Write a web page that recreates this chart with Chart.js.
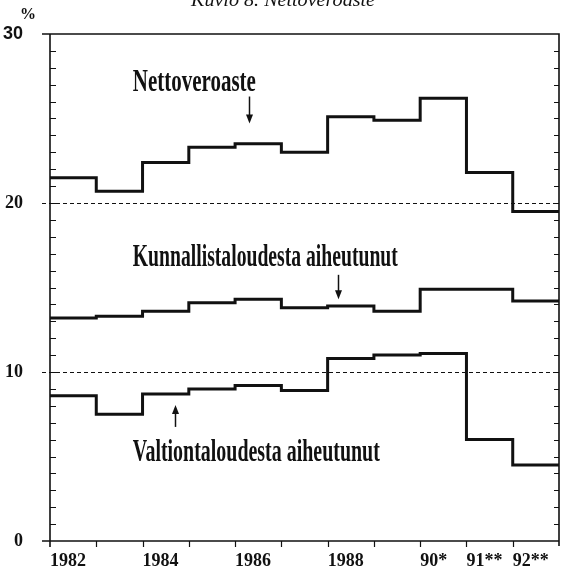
<!DOCTYPE html>
<html>
<head>
<meta charset="utf-8">
<script src="https://cdn.jsdelivr.net/npm/chart.js@4/dist/chart.umd.min.js"></script>
<style>
  html, body { margin: 0; padding: 0; background: #fff; }
  #wrap { position: relative; width: 564px; height: 573px; }
</style>
</head>
<body>
<div id="wrap"><canvas id="chart" width="564" height="573"></canvas></div>
<script>
// ── Data ──────────────────────────────────────────────────────────────
const years = [1982, 1983, 1984, 1985, 1986, 1987, 1988, 1989, 1990, 1991, 1992];
const xTickLabels = ['1982', '', '1984', '', '1986', '', '1988', '', '90*', '91**', '92**'];
const yTickValues = [0, 10, 20, 30];

const nettoveroaste = [21.5, 20.7, 22.4, 23.3, 23.5, 23.0, 25.1, 24.9, 26.2, 21.8, 19.5];
const kunnallis     = [13.2, 13.3, 13.6, 14.1, 14.3, 13.8, 13.9, 13.6, 14.9, 14.9, 14.2];
const valtio        = [8.6, 7.5, 8.7, 9.0, 9.2, 8.9, 10.8, 11.0, 11.1, 6.0, 4.5];

const title = 'Kuvio 8. Nettoveroaste';

// each value covers one whole year, so close the last step at the end of 1992
function steps(values) {
    const pts = years.map((yr, i) => ({ x: yr, y: values[i] }));
    pts.push({ x: years[years.length - 1] + 1, y: values[values.length - 1] });
    return pts;
}

// label / arrow placement in data space (year, %)
const labels = [
    { text: 'Nettoveroaste', x: 1983.79, y: 26.6, width: 123,
      arrow: { x: 1986.30, from: 26.3, to: 24.7 } },
    { text: 'Kunnallistaloudesta aiheutunut', x: 1983.79, y: 16.3, width: 265,
      arrow: { x: 1988.22, from: 15.75, to: 14.3 } },
    { text: 'Valtiontaloudesta aiheutunut', x: 1983.79, y: 4.75, width: 247,
      arrow: { x: 1984.70, from: 6.75, to: 8.05 } },
];

const INK = '#111';
const SERIF = '"Liberation Serif", "DejaVu Serif", serif';
const SANS = '"Liberation Sans", Arial, sans-serif';

// ── Frame, dashed reference lines and tick marks ───────────────────────
const framePlugin = {
    id: 'frame',
    beforeDatasetsDraw(chart) {
        const { ctx, chartArea: a, scales: { x, y } } = chart;
        ctx.save();
        ctx.strokeStyle = INK;

        // dashed lines at 10 and 20
        ctx.lineWidth = 1;
        ctx.setLineDash([4, 3]);
        [10, 20].forEach(v => {
            const py = Math.round(y.getPixelForValue(v)) + 0.5;
            ctx.beginPath();
            ctx.moveTo(a.left - 8, py);
            ctx.lineTo(a.right, py);
            ctx.stroke();
        });
        ctx.setLineDash([]);

        // box
        ctx.lineWidth = 1.6;
        ctx.beginPath();
        ctx.moveTo(a.left - 8, a.top);
        ctx.lineTo(a.right, a.top);
        ctx.lineTo(a.right, a.bottom + 5);
        ctx.moveTo(a.left - 8, a.bottom);
        ctx.lineTo(a.right, a.bottom);
        ctx.moveTo(a.left, a.top);
        ctx.lineTo(a.left, a.bottom + 6);
        ctx.stroke();

        // minor ticks every 1 %, inside on both sides
        ctx.lineWidth = 1;
        for (let v = 1; v < 30; v++) {
            const py = Math.round(y.getPixelForValue(v)) + 0.5;
            ctx.beginPath();
            ctx.moveTo(a.left, py);
            ctx.lineTo(a.left + 6, py);
            ctx.moveTo(a.right, py);
            ctx.lineTo(a.right - 5, py);
            ctx.stroke();
        }
        // year ticks below the axis
        ctx.lineWidth = 1.2;
        for (let yr = years[0] + 1; yr <= years[years.length - 1]; yr++) {
            const px = Math.round(x.getPixelForValue(yr)) + 0.5;
            ctx.beginPath();
            ctx.moveTo(px, a.bottom);
            ctx.lineTo(px, a.bottom + 6);
            ctx.stroke();
        }
        ctx.restore();
    },
    afterDraw(chart) {
        const { ctx, chartArea: a, scales: { x, y } } = chart;
        ctx.save();
        ctx.fillStyle = INK;
        ctx.strokeStyle = INK;

        // cut-off caption and the % unit
        ctx.font = 'italic 18px ' + SERIF;
        ctx.textAlign = 'left';
        ctx.textBaseline = 'alphabetic';
        const tw = ctx.measureText(title).width;
        ctx.save();
        ctx.translate(191, 6);
        ctx.scale(184 / tw, 1);
        ctx.fillText(title, 0, 0);
        ctx.restore();

        ctx.font = 'bold 16px ' + SERIF;
        ctx.textAlign = 'center';
        ctx.fillText('%', 28, 19);

        // condensed series labels with arrows
        labels.forEach(l => {
            ctx.font = 'bold 32px ' + SERIF;
            ctx.textAlign = 'left';
            const w = ctx.measureText(l.text).width;
            ctx.save();
            ctx.translate(x.getPixelForValue(l.x), y.getPixelForValue(l.y));
            ctx.scale(l.width / w, 1);
            ctx.fillText(l.text, 0, 0);
            ctx.restore();

            const ax = Math.round(x.getPixelForValue(l.arrow.x)) + 0.5;
            const y0 = y.getPixelForValue(l.arrow.from);
            const y1 = y.getPixelForValue(l.arrow.to);
            const dir = y1 > y0 ? 1 : -1;
            ctx.lineWidth = 1.5;
            ctx.beginPath();
            ctx.moveTo(ax, y0);
            ctx.lineTo(ax, y1 - dir * 7);
            ctx.stroke();
            ctx.beginPath();
            ctx.moveTo(ax, y1);
            ctx.lineTo(ax - 3.5, y1 - dir * 9);
            ctx.lineTo(ax + 3.5, y1 - dir * 9);
            ctx.closePath();
            ctx.fill();
        });
        ctx.restore();
    },
};

// ── Chart ─────────────────────────────────────────────────────────────
const stepLine = (label, values) => ({
    label,
    data: steps(values),
    stepped: 'before',
    borderColor: INK,
    borderWidth: 3,
    pointRadius: 0,
    borderJoinStyle: 'miter',
    fill: false,
});

new Chart(document.getElementById('chart'), {
    type: 'line',
    data: {
        datasets: [
            stepLine('Nettoveroaste', nettoveroaste),
            stepLine('Kunnallistaloudesta aiheutunut', kunnallis),
            stepLine('Valtiontaloudesta aiheutunut', valtio),
        ],
    },
    options: {
        responsive: false,
        animation: false,
        layout: { padding: { left: 0, right: 5, top: 34, bottom: 0 } },
        plugins: {
            legend: { display: false },
            tooltip: { enabled: false },
        },
        scales: {
            x: {
                type: 'linear',
                min: years[0],
                max: years[years.length - 1] + 1,
                grid: { display: false },
                border: { display: false },
                afterBuildTicks: (s) => { s.ticks = years.map(v => ({ value: v })); },
                afterFit: (s) => { s.height = 32; },
                ticks: {
                    autoSkip: false,
                    maxRotation: 0,
                    align: 'start',
                    padding: 2,
                    color: INK,
                    font: { family: SERIF, size: 18, weight: 'bold' },
                    callback: (v) => xTickLabels[v - years[0]] ?? '',
                },
            },
            y: {
                min: 0,
                max: 30,
                grid: { display: false },
                border: { display: false },
                afterBuildTicks: (s) => { s.ticks = yTickValues.map(v => ({ value: v })); },
                afterFit: (s) => { s.width = 50; },
                ticks: {
                    padding: 19,
                    color: INK,
                    font: (c) => (c.tick && c.tick.value === 30)
                        ? { family: SANS, size: 18, weight: 'bold' }
                        : { family: SERIF, size: 18, weight: 'bold' },
                    callback: (v) => String(v),
                },
            },
        },
    },
    plugins: [framePlugin],
});
</script>
</body>
</html>
